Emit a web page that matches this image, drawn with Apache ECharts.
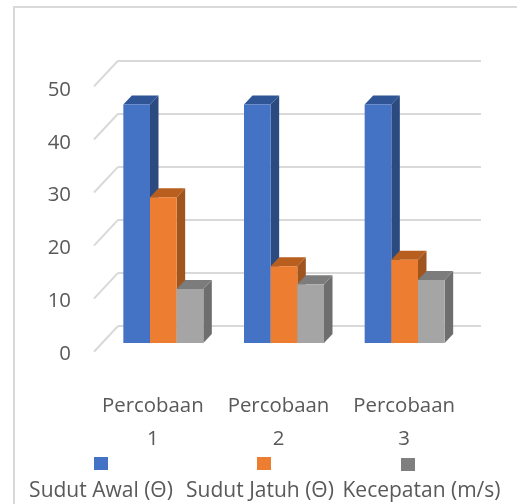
<!DOCTYPE html>
<html><head><meta charset="utf-8">
<style>html,body{margin:0;padding:0;background:#fff}#c{width:517px;height:504px}</style>
<script src="https://cdn.jsdelivr.net/npm/echarts@6/dist/echarts.min.js"></script>
</head><body><div id="c"></div>
<script>
const categories = ['Percobaan\n1','Percobaan\n2','Percobaan\n3'];
const seriesNames = ['Sudut Awal (Θ)','Sudut Jatuh (Θ)','Kecepatan (m/s)'];
const sudutAwal = [45,45,45];
const sudutJatuh = [27.5,14.5,15.7];
const kecepatan = [10.2,11.1,11.9];
const gridValues = [0,10,20,30,40,50];
const faces = [
  {front:'#4472C4',top:'#2F5597',side:'#2A4A80',legend:'#4472C4'},
  {front:'#ED7D31',top:'#B85F20',side:'#A0551F',legend:'#ED7D31'},
  {front:'#A5A5A5',top:'#7C7C7C',side:'#6E6E6E',legend:'#7F7F7F'}
];
const FONT='"Open Sans"', TXT='#595959', FS=20.4;
const DX=8.5, DY=9, BAR=0.221;

function barRenderer(idx){
  return function(params,api){
    const x=api.value(0), v=api.value(1);
    const base=api.coord([x,0]), top=api.coord([x,v]);
    const w=api.size([1,0])[0]*BAR;
    const l=base[0]+(idx-1.5)*w, r=l+w, b=base[1], t=top[1];
    const f=faces[idx];
    return {type:'group',silent:true,children:[
      {type:'polygon',shape:{points:[[r,t],[r+DX,t-DY],[r+DX,b-DY],[r,b]]},style:{fill:f.side}},
      {type:'polygon',shape:{points:[[l,t],[l+DX,t-DY],[r+DX,t-DY],[r,t]]},style:{fill:f.top}},
      {type:'rect',shape:{x:l,y:t,width:w,height:b-t},style:{fill:f.front}}
    ]};
  };
}
function diagonalRenderer(params,api){
  const p=api.coord([0,api.value(0)]);
  const x0=params.coordSys.x;
  return {type:'line',silent:true,shape:{x1:x0,y1:p[1],x2:x0-24,y2:p[1]+25.7},
    style:{stroke:'#D9D9D9',lineWidth:2}};
}
function series3(i,vals){
  return {type:'custom',name:seriesNames[i],xAxisIndex:0,yAxisIndex:0,z:5,
    renderItem:barRenderer(i),encode:{x:0,y:1},itemStyle:{color:faces[i].front},
    data:vals.map((v,k)=>[k,v])};
}
const legendX=[94,257,401], legendY=[457,457,458];
const legendTextX=[101,260,421.5];
const graphic=[
  {type:'polyline',silent:true,shape:{points:[[14,504],[14,7],[517,7]]},style:{stroke:'#D9D9D9',lineWidth:2,fill:null}}
];
seriesNames.forEach((n,i)=>{
  graphic.push({type:'rect',silent:true,shape:{x:legendX[i],y:legendY[i],width:14,height:13},style:{fill:faces[i].legend}});
  graphic.push({type:'text',silent:true,x:legendTextX[i],y:491.5,style:{text:n,font:'21px '+FONT,fill:TXT,align:'center',verticalAlign:'middle'}});
});
const chart=echarts.init(document.getElementById('c'),null,{renderer:'canvas'});
chart.setOption({
  animation:false,
  backgroundColor:'#fff',
  grid:[
    {left:103,width:362,top:78,height:265},
    {left:90,width:377,top:90,height:263.7},
    {left:118,width:363,top:60.7,height:265.3}
  ],
  xAxis:[
    {type:'category',gridIndex:0,data:categories,show:false},
    {type:'category',gridIndex:1,data:categories,axisLine:{show:false},axisTick:{show:false},
      axisLabel:{interval:0,color:TXT,fontFamily:FONT,fontSize:FS,lineHeight:33,margin:36}},
    {type:'category',gridIndex:2,data:categories,show:false}
  ],
  yAxis:[
    {type:'value',gridIndex:0,min:0,max:50,interval:10,show:false},
    {type:'value',gridIndex:1,min:0,max:50,interval:10,axisLine:{show:false},axisTick:{show:false},splitLine:{show:false},
      axisLabel:{color:TXT,fontFamily:FONT,fontSize:FS,margin:19}},
    {type:'value',gridIndex:2,min:0,max:50,interval:10,axisLine:{show:false},axisTick:{show:false},axisLabel:{show:false},
      splitLine:{show:true,lineStyle:{color:'#D9D9D9',width:2}}}
  ],
  series:[
    {type:'custom',xAxisIndex:2,yAxisIndex:2,z:1,renderItem:diagonalRenderer,encode:{y:0},data:gridValues.map(v=>[v])},
    series3(0,sudutAwal),series3(1,sudutJatuh),series3(2,kecepatan)
  ],
  graphic
});
</script></body></html>
